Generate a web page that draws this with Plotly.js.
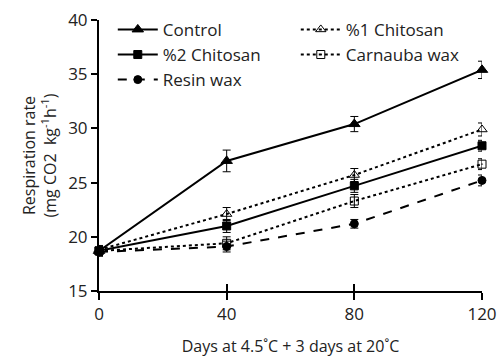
<!DOCTYPE html>
<html><head><meta charset="utf-8">
<script src="https://cdn.plot.ly/plotly-3.0.1.min.js"></script>
<style>html,body{margin:0;padding:0;background:#fff}</style>
</head><body>
<div id="chart" style="width:500px;height:360px"></div>
<script>
const days = [0, 40, 80, 120];
const control = [18.7, 27.0, 30.4, 35.4];
const controlErr = [0.4, 1.0, 0.7, 0.8];
const chitosan1 = [18.8, 22.1, 25.7, 29.9];
const chitosan1Err = [0.4, 0.6, 0.6, 0.6];
const chitosan2 = [18.7, 21.0, 24.7, 28.4];
const chitosan2Err = [0.4, 0.6, 0.6, 0.5];
const carnauba = [18.7, 19.4, 23.3, 26.7];
const carnaubaErr = [0.4, 0.6, 0.6, 0.5];
const resin = [18.6, 19.1, 21.2, 25.2];
const resinErr = [0.4, 0.5, 0.4, 0.5];
const names = ["Control", "%1 Chitosan", "%2 Chitosan", "Carnauba wax", "Resin wax"];

const font = "Open Sans, Noto Sans, sans-serif";
function tr(name, y, err, dash, symbol, size) {
  return {
    x: days, y: y, name: name, type: 'scatter', mode: 'lines+markers', cliponaxis: false,
    line: {color: '#000', width: 2, dash: dash},
    marker: {symbol: symbol, size: size, color: '#000', line: {color: '#000', width: 1}},
    error_y: {type: 'data', array: err, visible: true, color: '#000', thickness: 1, width: 4}
  };
}
const data = [
  tr(names[0], control, controlErr, 'solid', 'triangle-up', 10),
  tr(names[1], chitosan1, chitosan1Err, 'dot', 'triangle-up-open', 9),
  tr(names[2], chitosan2, chitosan2Err, 'solid', 'square', 8),
  tr(names[3], carnauba, carnaubaErr, 'dot', 'square-open-dot', 8),
  tr(names[4], resin, resinErr, 'dash', 'circle', 8)
];
data.push({x: days, y: [15,15,15,15], xaxis: 'x2', yaxis: 'y', mode: 'none', showlegend: false, hoverinfo: 'skip', type: 'scatter'});

const layout = {
  width: 500, height: 360,
  margin: {l: 99, r: 18, t: 18, b: 69},
  paper_bgcolor: '#fff', plot_bgcolor: '#fff',
  font: {family: font, color: '#222'},
  showlegend: true,
  legend: {
    orientation: 'h', x: 0.036, y: 1.03, xanchor: 'left', yanchor: 'top',
    entrywidth: 128, entrywidthmode: 'pixels',
    font: {size: 17, family: font, color: '#222'},
    bgcolor: 'rgba(0,0,0,0)', itemwidth: 40
  },
  xaxis: {
    range: [0, 120], tickvals: days, ticktext: days.map(String),
    showline: true, linecolor: '#000', linewidth: 2,
    ticks: 'outside', ticklen: 7, tickwidth: 2, tickcolor: '#000',
    showgrid: false, zeroline: false,
    tickfont: {size: 17, family: font, color: '#222'},
    title: {text: 'Days at 4.5˚C + 3 days at 20˚C', font: {size: 16, family: font, color: '#222'}, standoff: 16}
  },
  xaxis2: {
    overlaying: 'x', range: [0, 120], tickvals: days, showticklabels: false,
    ticks: 'inside', ticklen: 7, tickwidth: 2, tickcolor: '#000',
    showline: false, showgrid: false, zeroline: false, side: 'bottom'
  },
  yaxis: {
    range: [15, 40], tickvals: [15, 20, 25, 30, 35, 40],
    showline: true, linecolor: '#000', linewidth: 2,
    ticks: 'outside', ticklen: 6, tickwidth: 2, tickcolor: '#000',
    showgrid: false, zeroline: false,
    tickfont: {size: 17, family: font, color: '#222'},
    title: {text: 'Respiration rate<br>(mg CO2  kg<sup>-1</sup>h<sup>-1</sup>)', font: {size: 16, family: font, color: '#222'}, standoff: 8}
  }
};
Plotly.newPlot('chart', data, layout, {staticPlot: true, displayModeBar: false});
</script>
</body></html>
